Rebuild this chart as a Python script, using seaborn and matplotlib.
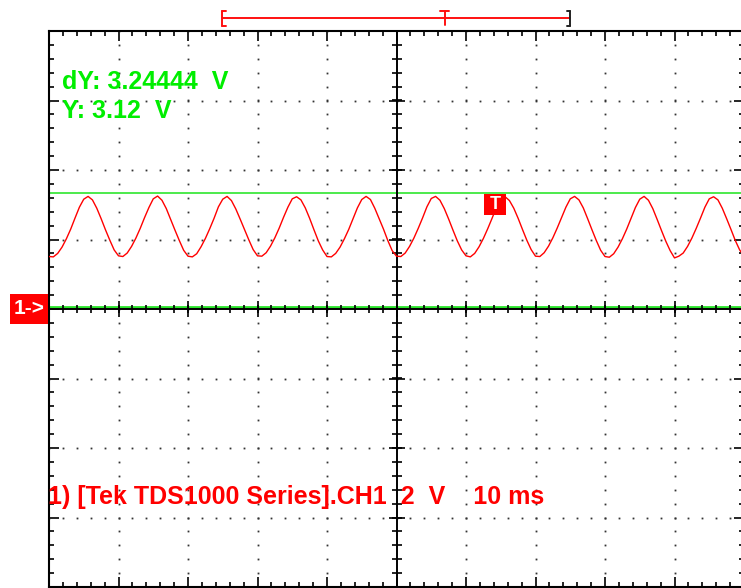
import numpy as np
import matplotlib
matplotlib.use("Agg")
import matplotlib.pyplot as plt
import seaborn as sns
from matplotlib.patches import Rectangle
from matplotlib.lines import Line2D
from matplotlib.ticker import MultipleLocator

# ---------------- data ----------------
# sample times (ms), 0.625 ms spacing over 10 divisions of 10 ms
time_ms = np.arange(0, 100.0001, 0.625)
# CH1 voltage samples (V), one row per 10 ms period
ch1_volts = [
    1.51, 1.50, 1.60, 1.78, 2.02, 2.30, 2.62, 2.93, 3.16, 3.24, 3.14, 2.90, 2.60, 2.28, 1.98, 1.70,
    1.53, 1.51, 1.61, 1.80, 2.04, 2.32, 2.63, 2.92, 3.17, 3.25, 3.13, 2.89, 2.58, 2.27, 1.97, 1.69,
    1.52, 1.50, 1.59, 1.79, 2.03, 2.31, 2.61, 2.94, 3.16, 3.24, 3.12, 2.88, 2.59, 2.29, 1.99, 1.71,
    1.53, 1.52, 1.62, 1.81, 2.05, 2.33, 2.64, 2.93, 3.17, 3.23, 3.14, 2.91, 2.61, 2.28, 1.96, 1.70,
    1.51, 1.50, 1.60, 1.78, 2.02, 2.29, 2.60, 2.91, 3.15, 3.24, 3.15, 2.90, 2.60, 2.30, 1.97, 1.68,
    1.52, 1.51, 1.61, 1.80, 2.04, 2.32, 2.62, 2.94, 3.18, 3.24, 3.13, 2.89, 2.59, 2.27, 1.96, 1.70,
    1.53, 1.50, 1.60, 1.79, 2.03, 2.31, 2.61, 2.92, 3.16, 3.23, 3.12, 2.90, 2.61, 2.29, 1.98, 1.71,
    1.52, 1.51, 1.62, 1.81, 2.05, 2.33, 2.63, 2.93, 3.17, 3.24, 3.14, 2.91, 2.60, 2.28, 1.97, 1.69,
    1.51, 1.49, 1.59, 1.78, 2.02, 2.30, 2.61, 2.92, 3.16, 3.24, 3.13, 2.89, 2.58, 2.26, 1.95, 1.68,
    1.47, 1.52, 1.61, 1.80, 2.04, 2.32, 2.62, 2.93, 3.17, 3.23, 3.14, 2.90, 2.60, 2.29, 1.97, 1.70,
    1.52,
]
cursor_level = 3.34      # horizontal cursor (V)
ground_level = 0.07      # CH1 reference marker line (V)
trigger_time = 64.2      # ms
trigger_level = 3.02     # V
cursor_labels = ["dY: 3.24444  V", "Y: 3.12  V"]
channel_label = "1) [Tek TDS1000 Series].CH1  2  V    10 ms"

# ---------------- figure ----------------
sns.set_style("white")
plt.rcParams["font.family"] = ["Liberation Sans", "DejaVu Sans"]

W, H = 741, 588
fig = plt.figure(figsize=(W / 100, H / 100), dpi=100)
fig.patch.set_facecolor("white")

def fx(x):
    return x / W

def fy(y):
    return 1 - y / H

ax = fig.add_axes([fx(49), 1 / H, 695 / W, 556 / H])
ax.set_xlim(0, 100)
ax.set_ylim(-8, 8)
ax.set_facecolor("white")

for s in ax.spines.values():
    s.set_visible(True)
    s.set_color("black")
    s.set_linewidth(1.5)

ax.xaxis.set_major_locator(MultipleLocator(10))
ax.xaxis.set_minor_locator(MultipleLocator(2))
ax.yaxis.set_major_locator(MultipleLocator(2))
ax.yaxis.set_minor_locator(MultipleLocator(0.4))
ax.tick_params(which="both", direction="in", top=True, right=True, bottom=True, left=True,
               labelbottom=False, labelleft=False, color="black")
ax.tick_params(which="major", length=7, width=1.2)
ax.tick_params(which="minor", length=3.6, width=1.2)

# dotted graticule
for gx in [10, 20, 30, 40, 60, 70, 80, 90]:
    yy = np.arange(-8, 8.001, 0.4)
    ax.plot(np.full_like(yy, gx), yy, ls="none", marker="s", ms=1.3, mew=0, color="#333333", zorder=1)
for gy in [-6, -4, -2, 2, 4, 6]:
    xx = np.arange(0, 100.001, 2)
    ax.plot(xx, np.full_like(xx, gy), ls="none", marker="s", ms=1.3, mew=0, color="#333333", zorder=1)

# green reference line and cursor
ax.axhline(ground_level, color="#2be52b", lw=2.0, zorder=2)
ax.axhline(cursor_level, color="#3ee83e", lw=1.3, zorder=2)

# center cross lines with ticks
ax.axhline(0, color="black", lw=1.4, zorder=3)
ax.axvline(50, color="black", lw=1.4, zorder=3)
xt = np.arange(0, 100.001, 2)
ax.plot(xt, np.zeros_like(xt), ls="none", marker="|", ms=6, mew=1.2, color="black", zorder=3)
xm = np.arange(0, 100.001, 10)
ax.plot(xm, np.zeros_like(xm), ls="none", marker="|", ms=12, mew=1.2, color="black", zorder=3)
yt = np.arange(-8, 8.001, 0.4)
ax.plot(np.full_like(yt, 50), yt, ls="none", marker="_", ms=7, mew=1.2, color="black", zorder=3)
ym = np.arange(-8, 8.001, 2)
ax.plot(np.full_like(ym, 50), ym, ls="none", marker="_", ms=12, mew=1.2, color="black", zorder=3)

# CH1 trace
sns.lineplot(x=time_ms, y=ch1_volts, color="red", lw=1.0, ax=ax, zorder=4)

# trigger marker "T"
tw, th = 22 * 10 / 69.5, 21 * 2 / 69.5
ax.add_patch(Rectangle((trigger_time - tw / 2, trigger_level - th / 2), tw, th,
                       facecolor="red", edgecolor="none", zorder=6))
ax.text(trigger_time, trigger_level, "T", color="white", fontsize=13, fontweight="bold",
        ha="center", va="center", zorder=7)

# channel marker "1->"
fig.add_artist(Rectangle((fx(10), fy(324)), 38 / W, 30 / H, transform=fig.transFigure,
                         facecolor="red", edgecolor="none"))
fig.text(fx(29), fy(309), "1->", color="white", fontsize=15, fontweight="bold",
         ha="center", va="center")

# top record bracket
red = "#ff1010"
for (x0, y0, x1, y1, c) in [
    (222, 18, 570, 18, red),
    (222, 11, 222, 26, red), (222, 11, 226, 11, red), (222, 26, 226, 26, red),
    (570, 11, 570, 26, "#222222"), (567, 11, 570, 11, "#222222"), (567, 26, 570, 26, "#222222"),
    (445, 11, 445, 25, red), (440, 11, 449, 11, red),
]:
    fig.add_artist(Line2D([fx(x0), fx(x1)], [fy(y0), fy(y1)], transform=fig.transFigure,
                          color=c, lw=1.4))

# texts
fig.text(fx(62), fy(82), cursor_labels[0], color="#00ee00", fontsize=18, fontweight="bold",
         ha="left", va="center")
fig.text(fx(62), fy(111), cursor_labels[1], color="#00ee00", fontsize=18, fontweight="bold",
         ha="left", va="center")
fig.text(fx(48), fy(497), channel_label, color="red", fontsize=18, fontweight="bold",
         ha="left", va="center")

fig.savefig("out.png", dpi=100, facecolor="white")
